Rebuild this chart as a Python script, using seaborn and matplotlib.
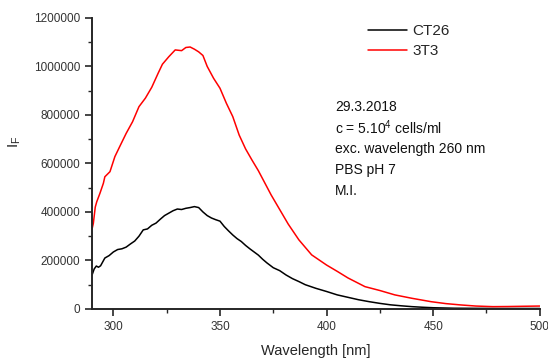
import pandas as pd
import seaborn as sns
import matplotlib
matplotlib.use('Agg')
import matplotlib.pyplot as plt
from matplotlib.ticker import MultipleLocator

# CT26 emission spectrum (black)
ct26_wl = [290, 291, 292, 293, 294, 296, 298, 300, 302, 304, 306, 308, 310, 312,
           314, 316, 318, 320, 322, 324, 326, 328, 330, 332, 334, 336, 338, 340,
           342, 344, 346, 348, 350, 352, 354, 356, 358, 360, 362, 364, 366, 368,
           370, 372, 375, 378, 381, 384, 387, 390, 395, 400, 405, 410, 415, 420,
           425, 430, 435, 440, 445, 450, 455, 460, 470, 480, 490, 500]
ct26_if = [140000, 165000, 177000, 172000, 178000, 210000, 220000, 235000, 245000,
           248000, 255000, 268000, 280000, 300000, 326000, 330000, 345000, 354000,
           370000, 385000, 395000, 405000, 412000, 410000, 415000, 418000, 422000,
           418000, 400000, 385000, 375000, 368000, 362000, 340000, 322000, 305000,
           290000, 278000, 262000, 248000, 235000, 222000, 205000, 190000, 170000,
           158000, 140000, 125000, 113000, 100000, 85000, 72000, 58000, 48000,
           38000, 30000, 23000, 17000, 13000, 9500, 7000, 5000, 4000, 3000, 2500,
           2000, 2000, 2000]

# 3T3 emission spectrum (red)
t3_wl = [290, 290.6, 291.5, 292.2, 293.7, 295.3, 296, 298.4, 300.7, 303, 306, 309,
         312, 315, 318, 321, 323, 326, 329, 332, 334, 336, 338, 340, 342, 344, 347,
         350, 353, 356, 359, 362, 365, 368, 371, 374, 378, 382, 387, 393, 400, 405,
         410, 418, 425, 432, 440, 449, 456, 463, 470, 478, 485, 492, 500]
t3_if = [330000, 353000, 420000, 442000, 477000, 518000, 545000, 566000, 628000,
         670000, 724000, 772000, 834000, 869000, 914000, 972000, 1009000, 1040000,
         1068000, 1065000, 1078000, 1080000, 1071000, 1060000, 1045000, 1000000,
         951000, 910000, 848000, 793000, 717000, 660000, 614000, 570000, 520000,
         470000, 410000, 350000, 285000, 223000, 181000, 155000, 128000, 92000,
         76000, 58000, 44000, 30000, 22000, 16500, 12000, 9500, 10000, 11000, 12000]

df = pd.concat([
    pd.DataFrame({'wl': ct26_wl, 'IF': ct26_if, 'sample': 'CT26'}),
    pd.DataFrame({'wl': t3_wl, 'IF': t3_if, 'sample': '3T3'}),
])

sns.set_style('ticks')
plt.rcParams['font.family'] = ['Liberation Sans', 'DejaVu Sans']
plt.rcParams['mathtext.fontset'] = 'custom'
plt.rcParams['mathtext.rm'] = 'Liberation Sans'
plt.rcParams['mathtext.it'] = 'Liberation Sans'

fig = plt.figure(figsize=(5.48, 3.58), dpi=100)
ax = fig.add_axes([0.168, 0.137, 0.817, 0.813])

sns.lineplot(data=df, x='wl', y='IF', hue='sample',
             palette={'CT26': 'black', '3T3': '#ff0000'},
             linewidth=1.1, ax=ax, legend=True, estimator=None, sort=False)

ax.set_xlim(290, 500)
ax.set_ylim(0, 1200000)
ax.xaxis.set_major_locator(MultipleLocator(50))
ax.xaxis.set_minor_locator(MultipleLocator(25))
ax.yaxis.set_major_locator(MultipleLocator(200000))
ax.yaxis.set_minor_locator(MultipleLocator(100000))
ax.ticklabel_format(style='plain', axis='y')

sns.despine(ax=ax)
for s in ['left', 'bottom']:
    ax.spines[s].set_linewidth(1.4)
ax.tick_params(which='major', length=5, width=1.2, labelsize=8.5,
               labelcolor='#333333', direction='out')
ax.tick_params(which='minor', length=3, width=1.0, direction='out')

ax.set_xlabel('Wavelength [nm]', fontsize=10.5, labelpad=8)
ax.set_ylabel(r'I$_\mathrm{F}$', fontsize=11)
ax.yaxis.set_label_coords(-0.155, 0.574)

leg = ax.legend(frameon=False, loc='upper left', bbox_to_anchor=(0.585, 1.025),
                fontsize=11, handlelength=2.6, handletextpad=0.3,
                labelspacing=0.4)
for line in leg.get_lines():
    line.set_linewidth(1.1)

notes = ['29.3.2018', r'c = 5.10$^{4}$ cells/ml', 'exc. wavelength 260 nm',
         'PBS pH 7', 'M.I.']
for i, t in enumerate(notes):
    fig.text(335 / 548, 1 - (107 + i * 21) / 358, t, fontsize=10,
             va='center', ha='left', color='#111111')

fig.savefig('out.png', dpi=100)
